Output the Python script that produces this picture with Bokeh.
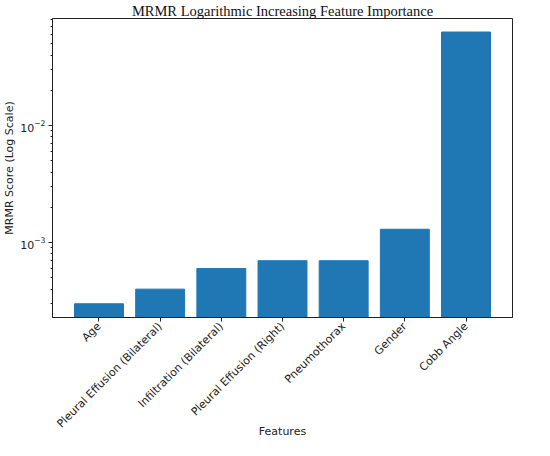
import math
from bokeh.plotting import figure
from bokeh.models import FactorRange, Range1d
from bokeh.embed import file_html
from bokeh.resources import INLINE

features = ["Age", "Pleural Effusion (Bilateral)", "Infiltration (Bilateral)",
            "Pleural Effusion (Right)", "Pneumothorax", "Gender", "Cobb Angle"]
scores = [0.0003, 0.0004, 0.0006, 0.0007, 0.0007, 0.0013, 0.063]

y_min, y_max = 0.000229, 0.0822

p = figure(width=534, height=440, output_backend="svg", toolbar_location=None,
           x_range=FactorRange(*features, range_padding=0.26, range_padding_units="absolute"),
           y_axis_type="log", y_range=Range1d(y_min, y_max),
           min_border_left=41, min_border_right=22, min_border_top=13, min_border_bottom=100)

p.vbar(x=features, top=scores, bottom=y_min * 0.5, width=0.8, color="#1f77b4", line_color="#1f77b4")

p.title.text = "MRMR Logarithmic Increasing Feature Importance"
p.title.text_font = "Liberation Serif"
p.title.text_font_size = "14.5px"
p.title.text_font_style = "normal"
p.title.text_color = "#111111"
p.title.align = "center"
p.title.standoff = 0
p.title.offset = 0

p.xgrid.visible = False
p.ygrid.visible = False
p.outline_line_color = "#222222"
p.outline_line_width = 1

for ax in (p.xaxis[0], p.yaxis[0]):
    ax.axis_line_color = "#222222"
    ax.major_tick_line_color = "#222222"
    ax.minor_tick_line_color = "#222222"
    ax.major_tick_out = 4
    ax.major_tick_in = 0
    ax.minor_tick_out = 2
    ax.minor_tick_in = 0
    ax.major_label_text_font = "DejaVu Sans"
    ax.axis_label_text_font = "DejaVu Sans"
    ax.axis_label_text_font_style = "normal"
    ax.axis_label_text_color = "#222222"
    ax.major_label_text_color = "#222222"

p.xaxis.axis_label = "Features"
p.xaxis.axis_label_text_font_size = "11px"
p.xaxis.major_label_text_font_size = "11px"
p.xaxis.major_label_orientation = math.pi / 4
p.xaxis.major_label_standoff = 3
p.xaxis.axis_label_standoff = -13

p.yaxis.axis_label = "MRMR Score (Log Scale)"
p.yaxis.axis_label_text_font_size = "11px"
p.yaxis.major_label_text_font_size = "11px"
p.yaxis.major_label_standoff = 3
p.yaxis.axis_label_standoff = 1

open("out.html", "w").write(file_html(p, INLINE))
